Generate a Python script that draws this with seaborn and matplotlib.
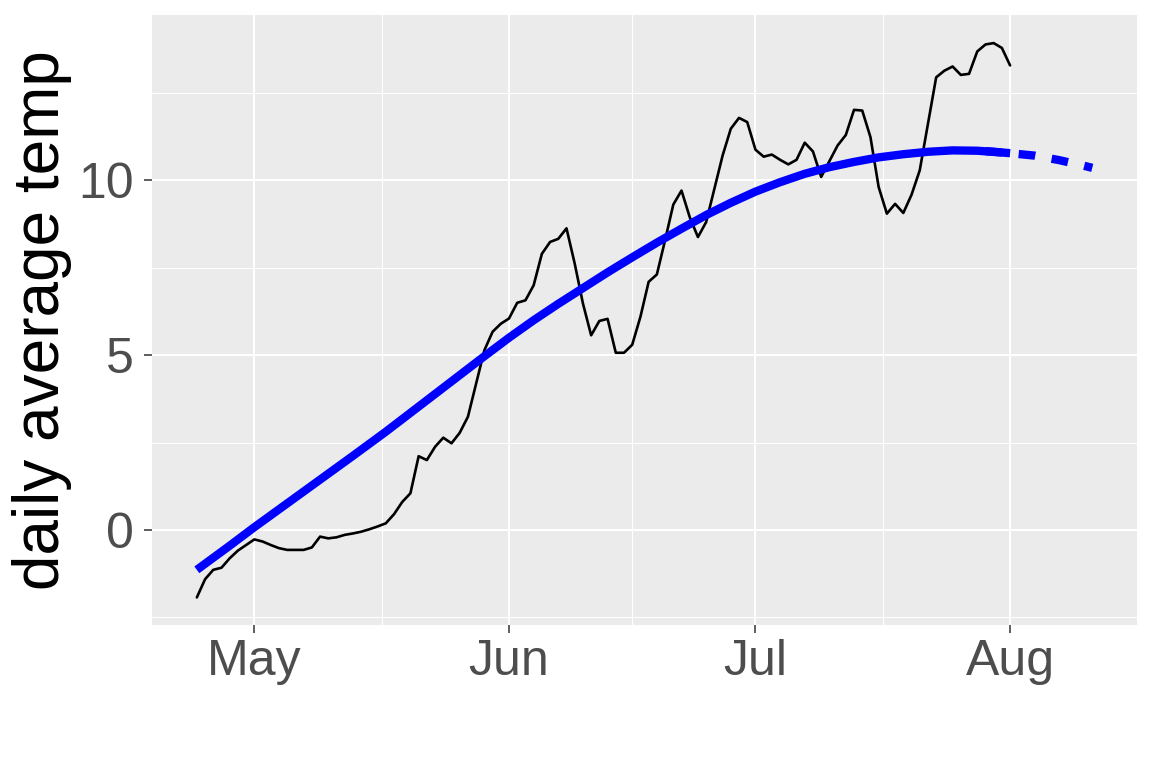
import numpy as np
import pandas as pd
import matplotlib
matplotlib.use("Agg")
import matplotlib.pyplot as plt
import matplotlib.dates as mdates
import seaborn as sns

# ---------------- data ----------------
temp_start = "2021-04-24"
daily_avg_temp = [
    -1.93, -1.41, -1.14, -1.08, -0.81, -0.59, -0.43,          # Apr 24 - Apr 30
    -0.27, -0.33, -0.43, -0.52, -0.57, -0.57, -0.57, -0.50,   # May 1 - 8
    -0.19, -0.24, -0.21, -0.14, -0.10, -0.05, 0.02, 0.10,     # May 9 - 16
    0.19, 0.45, 0.80, 1.05, 2.11, 2.00, 2.38, 2.64,           # May 17 - 24
    2.48, 2.78, 3.24, 4.19, 5.14, 5.67, 5.90,                 # May 25 - 31
    6.05, 6.50, 6.57, 7.00, 7.90, 8.24, 8.33, 8.63,           # Jun 1 - 8
    7.62, 6.48, 5.57, 5.98, 6.04, 5.07, 5.07, 5.30,           # Jun 9 - 16
    6.10, 7.10, 7.31, 8.29, 9.31, 9.71, 8.95, 8.38,           # Jun 17 - 24
    8.81, 9.76, 10.71, 11.48, 11.79, 11.67,                   # Jun 25 - 30
    10.88, 10.68, 10.74, 10.59, 10.46, 10.59, 11.08, 10.83,   # Jul 1 - 8
    10.10, 10.55, 11.00, 11.30, 12.02, 12.00, 11.24, 9.81,    # Jul 9 - 16
    9.05, 9.33, 9.07, 9.59, 10.29, 11.62, 12.95, 13.14,       # Jul 17 - 24
    13.26, 13.02, 13.05, 13.69, 13.89, 13.93, 13.79,          # Jul 25 - 31
    13.29,                                                    # Aug 1
]

fit_dates = ["2021-04-24", "2021-04-28", "2021-05-01", "2021-05-05", "2021-05-09",
             "2021-05-13", "2021-05-17", "2021-05-21", "2021-05-25", "2021-05-29",
             "2021-06-01", "2021-06-04", "2021-06-07", "2021-06-10", "2021-06-13",
             "2021-06-16", "2021-06-19", "2021-06-22", "2021-06-25", "2021-06-28",
             "2021-07-01", "2021-07-04", "2021-07-07", "2021-07-10", "2021-07-13",
             "2021-07-16", "2021-07-19", "2021-07-22", "2021-07-25", "2021-07-28",
             "2021-07-31", "2021-08-01"]
fit_values = [-1.14, -0.45, 0.08, 0.76, 1.44,
              2.12, 2.81, 3.53, 4.25, 4.97,
              5.50, 6.00, 6.47, 6.92, 7.37,
              7.80, 8.22, 8.62, 9.01, 9.36,
              9.68, 9.95, 10.19, 10.38, 10.53,
              10.66, 10.75, 10.82, 10.86, 10.85,
              10.80, 10.78]

forecast_dates = ["2021-07-29", "2021-08-01", "2021-08-04", "2021-08-07", "2021-08-10", "2021-08-11"]
forecast_values = [10.84, 10.78, 10.71, 10.58, 10.42, 10.36]

month_ticks = ["2021-05-01", "2021-06-01", "2021-07-01", "2021-08-01"]
month_labels = ["May", "Jun", "Jul", "Aug"]
y_ticks = [0, 5, 10]
y_minor = [-2.5, 2.5, 7.5, 12.5]
y_title = "daily average temp"

# ---------------- frames ----------------
obs = pd.DataFrame({"date": pd.date_range(temp_start, periods=len(daily_avg_temp), freq="D"),
                    "temp": daily_avg_temp})
fit = pd.DataFrame({"date": pd.to_datetime(fit_dates), "temp": fit_values})
fc = pd.DataFrame({"date": pd.to_datetime(forecast_dates), "temp": forecast_values})

# ---------------- style ----------------
sns.set_theme(style="darkgrid")
plt.rcParams["font.family"] = ["Liberation Sans", "DejaVu Sans"]
plt.rcParams["axes.facecolor"] = "#EBEBEB"

fig = plt.figure(figsize=(11.52, 7.68), dpi=100)
ax = fig.add_axes([0.132, 0.186, 0.855, 0.794])
ax.set_facecolor("#EBEBEB")

sns.lineplot(data=obs, x="date", y="temp", color="black", linewidth=1.9, ax=ax)
sns.lineplot(data=fit, x="date", y="temp", color="#0000FF", linewidth=6.0,
             solid_capstyle="butt", solid_joinstyle="round", ax=ax)
sns.lineplot(data=fc, x="date", y="temp", color="#0000FF", linewidth=6.0,
             linestyle=(0, (2.0, 2.0)), dash_capstyle="butt", ax=ax)

# limits with 5% expansion (ggplot default)
all_dates = pd.concat([obs["date"], fit["date"], fc["date"]])
xmin, xmax = mdates.date2num(all_dates.min()), mdates.date2num(all_dates.max())
dx = (xmax - xmin) * 0.05
ax.set_xlim(xmin - dx, xmax + dx)
all_y = pd.concat([obs["temp"], fit["temp"], fc["temp"]])
ymin, ymax = all_y.min(), all_y.max()
dy = (ymax - ymin) * 0.05
ax.set_ylim(ymin - dy, ymax + dy)

major_x = mdates.date2num(pd.to_datetime(month_ticks))
ax.set_xticks(major_x)
ax.set_xticklabels(month_labels)
minor_x = (major_x[:-1] + major_x[1:]) / 2
ax.set_xticks(minor_x, minor=True)
ax.set_yticks(y_ticks)
ax.set_yticklabels([str(v) for v in y_ticks])
ax.set_yticks(y_minor, minor=True)

ax.grid(which="major", color="white", linewidth=1.5)
ax.grid(which="minor", color="white", linewidth=0.75)
ax.set_axisbelow(True)
for s in ax.spines.values():
    s.set_visible(False)

ax.tick_params(axis="both", which="major", length=5.8, width=1.1, color="#333333",
               labelsize=36, labelcolor="#4D4D4D")
ax.tick_params(axis="x", which="major", pad=4, bottom=True)
ax.tick_params(axis="y", which="major", pad=7.5, left=True)
ax.tick_params(axis="both", which="minor", length=0)

ax.set_xlabel("")
ax.set_ylabel(y_title, fontsize=46, color="black")
ax.yaxis.set_label_coords(-0.081, 0.5)

fig.savefig("out.png", dpi=100)
